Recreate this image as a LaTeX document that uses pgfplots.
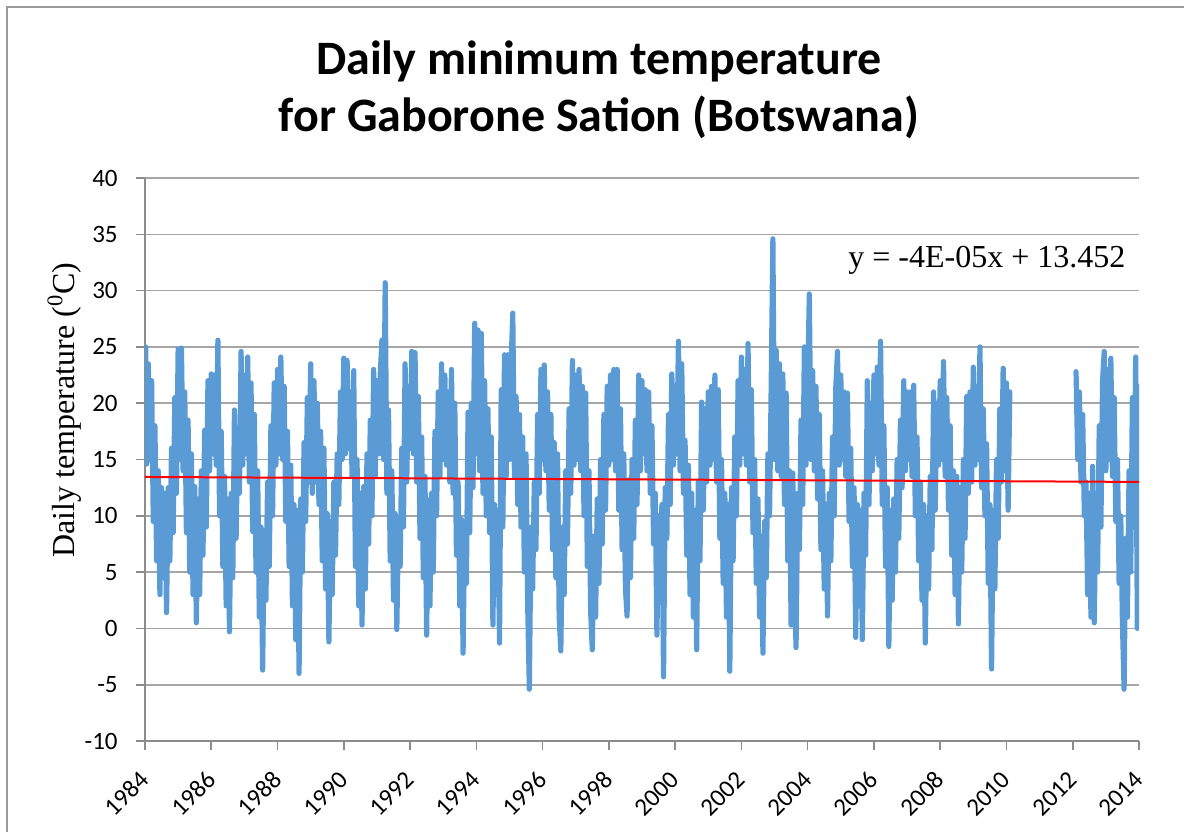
\documentclass[border=0pt]{standalone}
\usepackage{fontspec}
\setmainfont{Carlito}
\newfontfamily\timesfont{Liberation Serif}
\usepackage{pgfplots}
\pgfplotsset{compat=1.18}

\begin{document}
\begin{tikzpicture}

\definecolor{series}{HTML}{5B9BD5}
\definecolor{gridcol}{HTML}{A6A6A6}
\definecolor{axiscol}{HTML}{8C8C8C}
\definecolor{framecol}{HTML}{9A9A9A}

% 1 px of the 1184x832 reference = 0.5pt; plot area lower left at (0,0)
\path[use as bounding box] (-72.5pt,-45.5pt) rectangle (519.5pt,370.5pt);
\draw[framecol, line width=0.8pt] (-69pt,-45.5pt) -- (-69pt,367pt) -- (519.5pt,367pt);

\begin{axis}[
  at={(0pt,0pt)}, anchor=south west,
  width=497pt, height=281.5pt, scale only axis,
  xmin=1984, xmax=2014, ymin=-10, ymax=40,
  axis lines=left, axis line style={-, draw=axiscol, line width=0.8pt},
  xtick={1984,1986,...,2014},
  xticklabels={1984,1986,1988,1990,1992,1994,1996,1998,2000,2002,2004,2006,2008,2010,2012,2014},
  minor x tick num=3,
  ytick={-10,-5,...,40},
  yticklabels={-10,-5,0,5,10,15,20,25,30,35,40},
  tick align=outside,
  major tick length=4.3pt, minor tick length=3pt,
  tick style={draw=axiscol, line width=0.8pt},
  ymajorgrids, grid style={draw=gridcol, line width=0.8pt},
  tick label style={font=\fontsize{12.5}{15}\selectfont, inner sep=0pt},
  yticklabel style={anchor=east},
  xticklabel style={rotate=45, anchor=east},
  yticklabel shift=9.2pt,
  xticklabel shift=13pt,
]

% 1984 - 2010
\addplot[series, line width=2.6pt, line join=round, line cap=round] table {
x y
1984.02 25.0
1984.05 14.6
1984.10 23.5
1984.15 15.0
1984.20 22.0
1984.25 9.5
1984.30 18.0
1984.35 6.0
1984.40 14.0
1984.45 3.0
1984.50 12.5
1984.55 4.5
1984.60 12.0
1984.65 1.4
1984.70 12.5
1984.75 6.0
1984.80 16.0
1984.85 8.5
1984.90 20.5
1984.95 12.0
1985.00 24.8
1985.05 15.0
1985.10 24.9
1985.15 14.0
1985.20 21.0
1985.25 8.5
1985.30 18.5
1985.35 5.0
1985.40 15.5
1985.45 3.0
1985.50 12.6
1985.55 0.5
1985.60 11.5
1985.65 3.0
1985.70 14.0
1985.75 6.5
1985.80 17.6
1985.85 9.0
1985.90 22.0
1985.95 14.0
1986.00 22.6
1986.05 15.5
1986.10 22.5
1986.15 14.5
1986.20 25.6
1986.25 10.0
1986.30 17.5
1986.35 5.5
1986.40 13.5
1986.45 2.0
1986.50 11.5
1986.55 -0.3
1986.60 12.0
1986.65 4.5
1986.70 19.4
1986.75 8.0
1986.80 17.5
1986.85 12.0
1986.90 24.6
1986.95 14.5
1987.00 22.5
1987.05 15.5
1987.10 24.1
1987.15 13.0
1987.20 21.8
1987.25 8.6
1987.30 19.0
1987.35 5.0
1987.40 14.0
1987.45 1.0
1987.50 9.0
1987.55 -3.7
1987.60 8.7
1987.65 2.5
1987.70 13.0
1987.75 5.5
1987.80 18.0
1987.85 10.0
1987.90 21.8
1987.95 14.5
1988.00 23.0
1988.05 15.5
1988.10 24.1
1988.15 15.0
1988.20 21.5
1988.25 9.5
1988.30 17.5
1988.35 5.5
1988.40 14.5
1988.45 2.0
1988.50 11.0
1988.55 -1.0
1988.60 10.5
1988.65 -4.0
1988.70 11.5
1988.75 5.0
1988.80 16.5
1988.85 9.5
1988.90 20.5
1988.95 13.0
1989.00 23.5
1989.05 12.0
1989.10 22.0
1989.15 13.0
1989.20 20.0
1989.25 11.0
1989.30 17.5
1989.35 6.0
1989.40 16.0
1989.45 3.5
1989.50 10.2
1989.55 -1.2
1989.60 9.5
1989.65 3.0
1989.70 13.0
1989.75 6.5
1989.80 15.5
1989.85 11.0
1989.90 21.0
1989.95 15.0
1990.00 24.0
1990.05 15.5
1990.10 23.8
1990.15 16.0
1990.20 21.0
1990.25 13.5
1990.30 22.9
1990.35 5.5
1990.40 15.0
1990.45 2.0
1990.50 12.0
1990.55 0.3
1990.60 12.6
1990.65 3.5
1990.70 15.5
1990.75 7.5
1990.80 18.5
1990.85 10.0
1990.90 23.0
1990.95 13.5
1991.00 22.0
1991.05 15.5
1991.10 22.5
1991.15 25.6
1991.20 15.0
1991.25 30.7
1991.30 12.0
1991.35 19.4
1991.40 6.0
1991.45 14.0
1991.50 2.5
1991.55 10.2
1991.60 -0.1
1991.65 9.5
1991.70 5.5
1991.75 16.0
1991.80 9.0
1991.85 23.5
1991.90 13.0
1991.95 21.5
1992.00 16.0
1992.05 24.6
1992.10 15.5
1992.15 24.5
1992.20 13.0
1992.25 20.6
1992.30 8.0
1992.35 17.0
1992.40 4.5
1992.45 13.5
1992.50 -0.6
1992.55 11.4
1992.60 2.0
1992.65 12.0
1992.70 5.0
1992.75 17.5
1992.80 10.0
1992.85 21.0
1992.90 13.5
1992.95 23.5
1993.00 15.0
1993.05 22.5
1993.10 14.5
1993.15 21.0
1993.20 13.0
1993.25 23.0
1993.30 12.0
1993.35 20.0
1993.40 6.5
1993.45 13.0
1993.50 2.0
1993.55 9.7
1993.60 -2.2
1993.65 9.5
1993.70 4.0
1993.75 19.2
1993.80 8.5
1993.85 20.0
1993.90 12.5
1993.95 27.1
1994.00 15.5
1994.05 26.5
1994.10 14.0
1994.15 26.2
1994.20 12.0
1994.25 22.0
1994.30 10.0
1994.35 19.5
1994.40 8.5
1994.45 17.0
1994.50 0.3
1994.55 11.0
1994.60 3.0
1994.65 10.5
1994.70 -1.3
1994.75 21.2
1994.80 9.0
1994.85 24.3
1994.90 13.5
1994.95 24.3
1995.00 15.0
1995.05 23.5
1995.10 28.0
1995.15 13.5
1995.20 20.6
1995.25 11.0
1995.30 19.0
1995.35 9.0
1995.40 17.0
1995.45 5.0
1995.50 15.5
1995.55 2.0
1995.60 -5.4
1995.65 9.0
1995.70 3.5
1995.75 13.0
1995.80 7.0
1995.85 19.0
1995.90 12.0
1995.95 23.0
1996.00 15.0
1996.05 23.4
1996.10 14.0
1996.15 21.0
1996.20 10.5
1996.25 19.0
1996.30 7.0
1996.35 16.5
1996.40 4.5
1996.45 15.5
1996.50 1.0
1996.55 -2.0
1996.60 9.0
1996.65 3.0
1996.70 14.0
1996.75 7.5
1996.80 19.5
1996.85 12.0
1996.90 23.8
1996.95 14.5
1997.00 22.5
1997.05 15.0
1997.10 23.0
1997.15 14.0
1997.20 21.5
1997.25 10.0
1997.30 20.9
1997.35 5.5
1997.40 14.0
1997.45 1.5
1997.50 -1.9
1997.55 8.2
1997.60 1.0
1997.65 11.5
1997.70 4.0
1997.75 15.0
1997.80 7.5
1997.85 19.0
1997.90 10.5
1997.95 21.5
1998.00 14.5
1998.05 22.5
1998.10 15.0
1998.15 23.0
1998.20 14.0
1998.25 23.0
1998.30 10.5
1998.35 19.5
1998.40 7.0
1998.45 15.5
1998.50 3.5
1998.55 1.1
1998.60 13.2
1998.65 4.5
1998.70 15.0
1998.75 8.0
1998.80 18.5
1998.85 11.0
1998.90 22.5
1998.95 14.0
1999.00 22.0
1999.05 15.5
1999.10 21.2
1999.15 14.0
1999.20 21.0
1999.25 12.0
1999.30 18.0
1999.35 7.5
1999.40 12.0
1999.45 -0.6
1999.50 10.0
1999.55 3.0
1999.60 11.0
1999.65 -4.3
1999.70 12.5
1999.75 8.0
1999.80 19.0
1999.85 11.0
1999.90 22.6
1999.95 14.5
2000.00 21.5
2000.05 15.5
2000.10 25.5
2000.15 14.0
2000.20 23.5
2000.25 12.0
2000.30 16.7
2000.35 6.5
2000.40 14.5
2000.45 3.0
2000.50 12.0
2000.55 1.0
2000.60 10.5
2000.65 -1.9
2000.70 13.0
2000.75 6.0
2000.80 20.1
2000.85 10.5
2000.90 19.5
2000.95 13.0
2001.00 21.0
2001.05 14.5
2001.10 21.5
2001.15 15.0
2001.20 22.5
2001.25 13.0
2001.30 21.2
2001.35 8.0
2001.40 15.0
2001.45 4.0
2001.50 12.0
2001.55 1.0
2001.60 11.0
2001.65 -3.8
2001.70 12.5
2001.75 6.0
2001.80 17.0
2001.85 10.0
2001.90 22.0
2001.95 14.5
2002.00 24.1
2002.05 15.5
2002.10 23.0
2002.15 14.5
2002.20 25.3
2002.25 13.0
2002.30 21.2
2002.35 8.5
2002.40 15.0
2002.45 4.0
2002.50 11.5
2002.55 1.0
2002.60 8.2
2002.65 -2.2
2002.70 9.5
2002.75 4.5
2002.80 15.5
2002.85 10.0
2002.90 21.8
2002.95 34.6
2003.00 15.0
2003.05 24.7
2003.10 14.0
2003.15 23.5
2003.20 13.5
2003.25 22.6
2003.30 11.0
2003.35 20.9
2003.40 6.0
2003.45 14.0
2003.50 0.3
2003.55 13.8
2003.60 4.0
2003.65 -1.7
2003.70 12.0
2003.75 7.0
2003.80 18.5
2003.85 11.0
2003.90 25.0
2003.95 14.5
2004.00 21.8
2004.05 29.7
2004.10 15.0
2004.15 22.9
2004.20 14.0
2004.25 21.5
2004.30 11.5
2004.35 19.0
2004.40 7.0
2004.45 14.0
2004.50 3.5
2004.55 11.0
2004.60 1.1
2004.65 12.0
2004.70 6.0
2004.75 17.0
2004.80 10.0
2004.85 21.5
2004.90 24.6
2004.95 14.5
2005.00 22.5
2005.05 15.0
2005.10 21.0
2005.15 13.5
2005.20 20.9
2005.25 9.5
2005.30 16.0
2005.35 5.5
2005.40 12.5
2005.45 -0.8
2005.50 11.0
2005.55 2.0
2005.60 10.5
2005.65 -1.0
2005.70 12.0
2005.75 6.5
2005.80 22.0
2005.85 11.0
2005.90 20.0
2005.95 14.0
2006.00 22.5
2006.05 15.5
2006.10 23.2
2006.15 14.5
2006.20 25.5
2006.25 11.0
2006.30 18.0
2006.35 5.5
2006.40 12.5
2006.45 -1.6
2006.50 10.5
2006.55 2.5
2006.60 11.5
2006.65 5.0
2006.70 15.0
2006.75 8.0
2006.80 18.5
2006.85 12.5
2006.90 22.0
2006.95 14.0
2007.00 21.0
2007.05 15.0
2007.10 21.0
2007.15 13.5
2007.20 21.6
2007.25 10.0
2007.30 17.0
2007.35 6.0
2007.40 13.0
2007.45 2.5
2007.50 11.0
2007.55 -1.3
2007.60 10.0
2007.65 3.5
2007.70 13.5
2007.75 7.0
2007.80 21.0
2007.85 10.5
2007.90 20.0
2007.95 14.5
2008.00 22.0
2008.05 15.0
2008.10 23.7
2008.15 13.5
2008.20 20.5
2008.25 10.5
2008.30 18.0
2008.35 6.5
2008.40 14.0
2008.45 3.0
2008.50 13.5
2008.55 0.4
2008.60 12.5
2008.65 5.0
2008.70 15.0
2008.75 8.0
2008.80 20.6
2008.85 12.0
2008.90 21.0
2008.95 13.0
2009.00 23.2
2009.05 14.5
2009.10 21.5
2009.15 15.0
2009.20 25.0
2009.25 12.5
2009.30 19.5
2009.35 10.0
2009.40 16.4
2009.45 4.0
2009.50 11.0
2009.55 -3.6
2009.60 10.5
2009.65 3.5
2009.70 15.0
2009.75 8.0
2009.80 19.5
2009.85 13.0
2009.90 23.1
2009.95 14.0
2010.00 21.8
2010.05 10.5
2010.10 21.0
};

% 2012 - 2014
\addplot[series, line width=2.6pt, line join=round, line cap=round] table {
x y
2012.10 22.8
2012.15 15.0
2012.20 21.0
2012.25 13.0
2012.30 19.0
2012.35 10.0
2012.40 13.0
2012.45 3.0
2012.50 12.0
2012.55 1.0
2012.60 14.4
2012.65 0.5
2012.70 12.0
2012.75 5.0
2012.80 18.0
2012.85 9.0
2012.90 22.0
2012.95 24.6
2013.00 14.0
2013.05 23.0
2013.10 15.0
2013.15 24.0
2013.20 13.5
2013.25 20.5
2013.30 9.5
2013.35 15.0
2013.40 4.0
2013.45 10.0
2013.50 0.5
2013.55 -5.4
2013.60 8.0
2013.65 1.0
2013.70 14.0
2013.75 5.0
2013.80 20.5
2013.85 9.0
2013.90 24.1
2013.95 0.0
2014.00 21.5
};

% linear trend
\addplot[red, line width=1pt] table {
x y
1984 13.45
2014 13.01
};

\end{axis}

\node[anchor=base, inner sep=0pt, font=\fontsize{24}{28}\selectfont\bfseries]
  at (227pt,333.1pt) {Daily minimum temperature};
\node[anchor=base, inner sep=0pt, font=\fontsize{24}{28}\selectfont\bfseries]
  at (227pt,304.7pt) {for Gaborone Sation (Botswana)};

\node[rotate=90, anchor=base, inner sep=0pt, font=\timesfont\fontsize{16}{19}\selectfont]
  at (-35pt,165.5pt) {Daily temperature (\textsuperscript{0}C)};

\node[anchor=base west, inner sep=0pt, font=\timesfont\fontsize{16}{19}\selectfont]
  at (351.5pt,237pt) {y = -4E-05x + 13.452};

\end{tikzpicture}
\end{document}
